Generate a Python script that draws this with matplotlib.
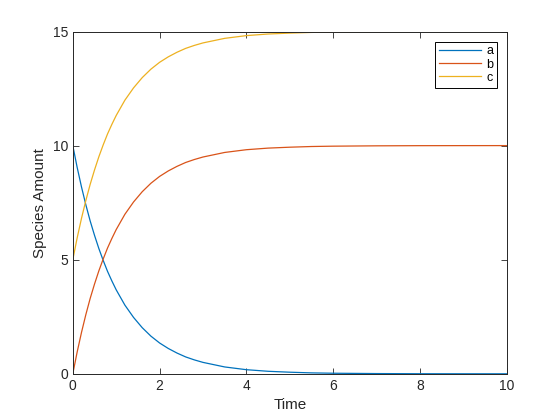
import matplotlib
matplotlib.use('Agg')
import matplotlib.pyplot as plt

plt.rcParams['font.family'] = ['Liberation Sans', 'DejaVu Sans']

# time samples and species amounts
t = [0, 0.1, 0.2, 0.3, 0.4, 0.5, 0.6, 0.7, 0.8, 0.9, 1.0, 1.2, 1.4, 1.6,
     1.8, 2.0, 2.2, 2.4, 2.6, 2.8, 3.0, 3.5, 4.0, 4.5, 5.0, 5.5, 6.0,
     7.0, 8.0, 9.0, 10.0]
a = [10.0, 9.05, 8.19, 7.41, 6.70, 6.07, 5.49, 4.97, 4.49, 4.07, 3.68,
     3.01, 2.47, 2.02, 1.65, 1.35, 1.11, 0.91, 0.74, 0.61, 0.50, 0.30,
     0.18, 0.11, 0.07, 0.04, 0.025, 0.01, 0.003, 0.001, 0.0]
b = [0.0, 0.95, 1.81, 2.59, 3.30, 3.93, 4.51, 5.03, 5.51, 5.93, 6.32,
     6.99, 7.53, 7.98, 8.35, 8.65, 8.89, 9.09, 9.26, 9.39, 9.50, 9.70,
     9.82, 9.89, 9.93, 9.96, 9.975, 9.99, 9.997, 9.999, 10.0]
c = [5.0, 5.95, 6.81, 7.59, 8.30, 8.93, 9.51, 10.03, 10.51, 10.93, 11.32,
     11.99, 12.53, 12.98, 13.35, 13.65, 13.89, 14.09, 14.26, 14.39, 14.50,
     14.70, 14.82, 14.89, 14.93, 14.96, 14.975, 14.99, 14.997, 14.999, 15.0]

fig = plt.figure(figsize=(5.6, 4.2), dpi=100)
ax = fig.add_axes([0.13, 0.11, 0.775, 0.815])

ax.plot(t, a, color='#0072BD', lw=0.9, label='a')
ax.plot(t, b, color='#D95319', lw=0.9, label='b')
ax.plot(t, c, color='#EDB120', lw=0.9, label='c')

ax.set_xlim(0, 10)
ax.set_ylim(0, 15)
ax.set_xticks([0, 2, 4, 6, 8, 10])
ax.set_yticks([0, 5, 10, 15])
ax.tick_params(direction='in', top=True, right=True, length=4, width=0.6,
               labelsize=10, colors='#262626')
for s in ax.spines.values():
    s.set_linewidth(0.7)
    s.set_color('#262626')

ax.set_xlabel('Time', fontsize=11, color='#262626')
ax.set_ylabel('Species Amount', fontsize=11, color='#262626')

leg = ax.legend(loc='upper right', fontsize=9, handlelength=3.4,
                fancybox=False, edgecolor='black', framealpha=1,
                borderpad=0.3, labelspacing=0.1, handletextpad=0.4,
                borderaxespad=0.8)
leg.get_frame().set_linewidth(0.7)

fig.savefig('out.png', dpi=100)
